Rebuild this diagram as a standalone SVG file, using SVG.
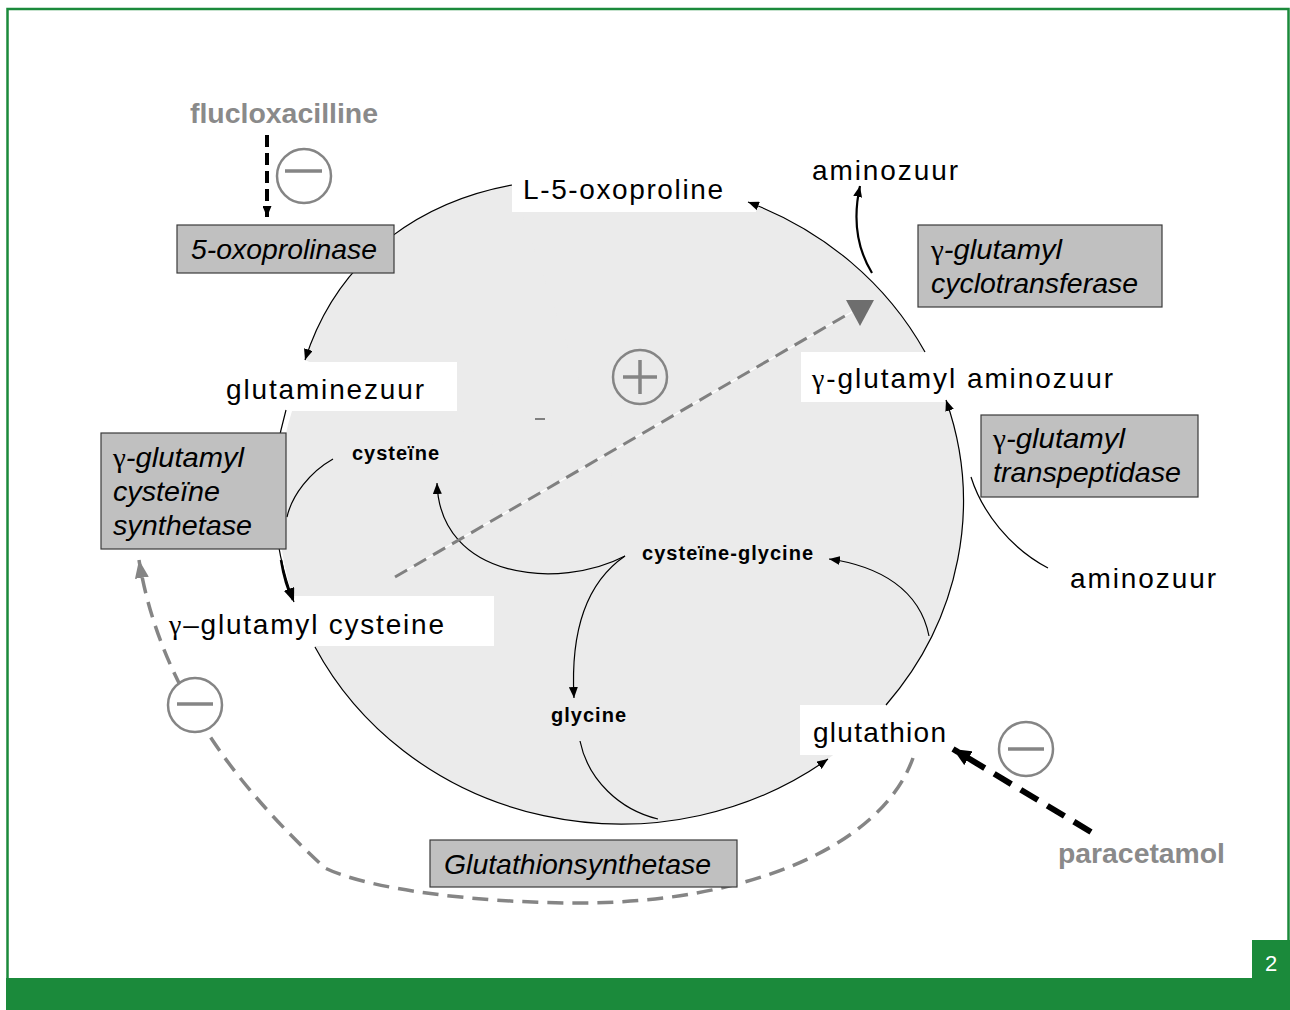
<svg xmlns="http://www.w3.org/2000/svg" width="1290" height="1010" viewBox="0 0 1290 1010">
<style>
.lbl{font-family:"Liberation Sans",Arial,sans-serif;font-size:28px;fill:#000}
.sm{font-family:"Liberation Sans",Arial,sans-serif;font-size:20px;font-weight:bold;fill:#000}
.enz{font-family:"Liberation Sans",Arial,sans-serif;font-size:28px;font-style:italic;fill:#000}
.up{font-style:normal;font-family:"Liberation Serif","Times New Roman",serif}
.drug{font-family:"Liberation Sans",Arial,sans-serif;font-size:27px;font-weight:bold;fill:#8a8a8a}
.box{fill:#c0c0c0;stroke:#3a3a3a;stroke-width:1.2}
.wb{fill:#fff}
.arc{fill:none;stroke:#000;stroke-width:1.2}
.sym{fill:#fff;stroke:#858585;stroke-width:2.5}
.symln{stroke:#858585;stroke-width:3.5}
</style>
<defs>
<marker id="ah" markerUnits="userSpaceOnUse" markerWidth="11" markerHeight="9" refX="11" refY="4.5" orient="auto"><path d="M0,0 L11,4.5 L0,9 z" fill="#000"/></marker>
<marker id="ahb" markerUnits="userSpaceOnUse" markerWidth="14" markerHeight="11" refX="14" refY="5.5" orient="auto"><path d="M0,0 L14,5.5 L0,11 z" fill="#000"/></marker>
<marker id="ahk" markerUnits="userSpaceOnUse" markerWidth="18" markerHeight="16" refX="18" refY="8" orient="auto"><path d="M0,0 L18,8 L0,16 z" fill="#000"/></marker>
<marker id="ahg" markerUnits="userSpaceOnUse" markerWidth="18" markerHeight="14" refX="18" refY="7" orient="auto"><path d="M0,0 L18,7 L0,14 z" fill="#858585"/></marker>
</defs>
<rect x="0" y="0" width="1290" height="1010" fill="#fff"/>
<g id="frame">
<path d="M7.5,1010 L7.5,9 L1288.5,9 L1288.5,978" fill="none" stroke="#1b8a3b" stroke-width="2.5"/>
<rect x="6" y="978" width="1284" height="32" fill="#1b8a3b"/>
<rect x="1252" y="940" width="38" height="40" fill="#1b8a3b"/>
<text x="1271" y="971" text-anchor="middle" font-family="Liberation Sans,Arial,sans-serif" font-size="22" fill="#fff">2</text>
</g>
<g id="cycle-area" fill="#ebebeb">
<ellipse cx="621" cy="502" rx="343" ry="322"/>
<path d="M512,185 C430,200 340,250 305,360 L621,502 Z"/>
</g>
<g id="label-backgrounds">
<rect class="wb" x="512" y="163" width="244" height="49"/>
<rect class="wb" x="220" y="362" width="237" height="49"/>
<rect class="wb" x="801" y="352" width="320" height="50"/>
<rect class="wb" x="167" y="596" width="327" height="50"/>
<rect class="wb" x="800" y="705" width="150" height="50"/>
</g>
<g id="connectors">
<path class="arc" d="M925,352 A343 322 0 0 0 748,202" marker-end="url(#ah)"/>
<path class="arc" d="M512,185 C430,200 340,250 305,360" marker-end="url(#ah)"/>
<path class="arc" d="M286,410 A343 322 0 0 0 294,602" marker-end="url(#ahb)"/>
<path d="M281,560 Q285,585 293,600" fill="none" stroke="#000" stroke-width="2.5"/>
<path class="arc" d="M315,647 A343 322 0 0 0 828,759" marker-end="url(#ah)"/>
<path class="arc" d="M886,705 A343 322 0 0 0 946,400" marker-end="url(#ah)"/>
<path d="M872,273 C858,250 852,222 860,186" fill="none" stroke="#000" stroke-width="2.2" marker-end="url(#ah)"/>
<path class="arc" d="M580,741 C588,780 620,810 658,819"/>
<path class="arc" d="M929,636 C920,590 880,566 829,559" marker-end="url(#ah)"/>
<path class="arc" d="M625,556 C560,590 440,580 437,483" marker-end="url(#ah)"/>
<path class="arc" d="M625,556 C590,580 570,625 574,698" marker-end="url(#ah)"/>
<path class="arc" d="M333,459 C310,472 292,495 287,517"/>
<path class="arc" d="M1048,568 C1010,548 982,512 971,477"/>
<path d="M395,577 L852,312" stroke="#fff" stroke-width="1.2"/>
<path d="M395,577 L850,313" stroke="#808080" stroke-width="3" stroke-dasharray="14 8"/>
<polygon points="846,300 874,300 860,326" fill="#6e6e6e"/>
<path d="M913,758 C880,850 740,903 580,903 C480,903 370,890 325,868 C240,790 160,690 139,560" fill="none" stroke="#858585" stroke-width="3.5" stroke-dasharray="16 9" marker-end="url(#ahg)"/>
<path d="M267,135 L267,217" stroke="#000" stroke-width="4" stroke-dasharray="12 6" marker-end="url(#ah)"/>
<path d="M1091,832 L953,749" stroke="#000" stroke-width="6" stroke-dasharray="20 11" marker-end="url(#ahk)"/>
</g>
<g id="n-5-oxoprolinase"><rect class="box" x="177" y="225" width="217" height="48"/><text class="enz" x="191" y="259" textLength="186" lengthAdjust="spacingAndGlyphs">5-oxoprolinase</text></g>
<g id="n-cyclotransferase"><rect class="box" x="918" y="225" width="244" height="82"/><text class="enz" x="931" y="259" textLength="131" lengthAdjust="spacingAndGlyphs"><tspan class="up">γ</tspan>-glutamyl</text><text class="enz" x="931" y="293" textLength="207" lengthAdjust="spacingAndGlyphs">cyclotransferase</text></g>
<g id="n-synthetase"><rect class="box" x="101" y="433" width="185" height="116"/><text class="enz" x="113" y="467" textLength="131" lengthAdjust="spacingAndGlyphs"><tspan class="up">γ</tspan>-glutamyl</text><text class="enz" x="113" y="501" textLength="107" lengthAdjust="spacingAndGlyphs">cysteïne</text><text class="enz" x="113" y="535" textLength="139" lengthAdjust="spacingAndGlyphs">synthetase</text></g>
<g id="n-transpeptidase"><rect class="box" x="981" y="415" width="217" height="82"/><text class="enz" x="993" y="448" textLength="132" lengthAdjust="spacingAndGlyphs"><tspan class="up">γ</tspan>-glutamyl</text><text class="enz" x="993" y="482" textLength="188" lengthAdjust="spacingAndGlyphs">transpeptidase</text></g>
<g id="n-glutathionsynthetase"><rect class="box" x="430" y="840" width="307" height="47"/><text class="enz" x="444" y="874" textLength="267" lengthAdjust="spacingAndGlyphs">Glutathionsynthetase</text></g>
<g id="n-oxoproline"><text class="lbl" x="523" y="199" textLength="200" lengthAdjust="spacing">L-5-oxoproline</text></g>
<g id="n-aminozuur-top"><text class="lbl" x="812" y="180" textLength="146" lengthAdjust="spacing">aminozuur</text></g>
<g id="n-glutaminezuur"><text class="lbl" x="226" y="399" textLength="198" lengthAdjust="spacing">glutaminezuur</text></g>
<g id="n-gamma-aminozuur"><text class="lbl" x="812" y="388" textLength="301" lengthAdjust="spacing"><tspan class="up">γ</tspan>-glutamyl aminozuur</text></g>
<g id="n-aminozuur-right"><text class="lbl" x="1070" y="588" textLength="146" lengthAdjust="spacing">aminozuur</text></g>
<g id="n-gamma-cysteine"><text class="lbl" x="169" y="634" textLength="275" lengthAdjust="spacing"><tspan class="up">γ</tspan>–glutamyl cysteine</text></g>
<g id="n-glutathion"><text class="lbl" x="813" y="742" textLength="133" lengthAdjust="spacing">glutathion</text></g>
<g id="n-cysteine"><text class="sm" x="352" y="460" textLength="87" lengthAdjust="spacing">cysteïne</text></g>
<g id="n-cysteine-glycine"><text class="sm" x="642" y="560" textLength="171" lengthAdjust="spacing">cysteïne-glycine</text></g>
<g id="n-glycine"><text class="sm" x="551" y="722" textLength="75" lengthAdjust="spacing">glycine</text></g>
<g id="n-flucloxacilline"><text class="drug" x="190" y="123" textLength="188" lengthAdjust="spacingAndGlyphs">flucloxacilline</text></g>
<g id="n-paracetamol"><text class="drug" x="1058" y="863" textLength="167" lengthAdjust="spacingAndGlyphs">paracetamol</text></g>
<g id="sym-minus-1"><circle class="sym" cx="304" cy="176" r="27"/><line class="symln" x1="285" y1="171" x2="322" y2="171"/></g>
<g id="sym-minus-2"><circle class="sym" cx="195" cy="705" r="27"/><line class="symln" x1="177" y1="704" x2="213" y2="704"/></g>
<g id="sym-minus-3"><circle class="sym" cx="1026" cy="749" r="27"/><line class="symln" x1="1008" y1="749" x2="1044" y2="749"/></g>
<g id="sym-plus"><circle cx="640" cy="377" r="27" fill="none" stroke="#858585" stroke-width="2.5"/><line class="symln" x1="623" y1="377" x2="657" y2="377"/><line class="symln" x1="640" y1="360" x2="640" y2="394"/></g>
<line x1="535" y1="419" x2="545" y2="419" stroke="#808080" stroke-width="2"/>
</svg>
